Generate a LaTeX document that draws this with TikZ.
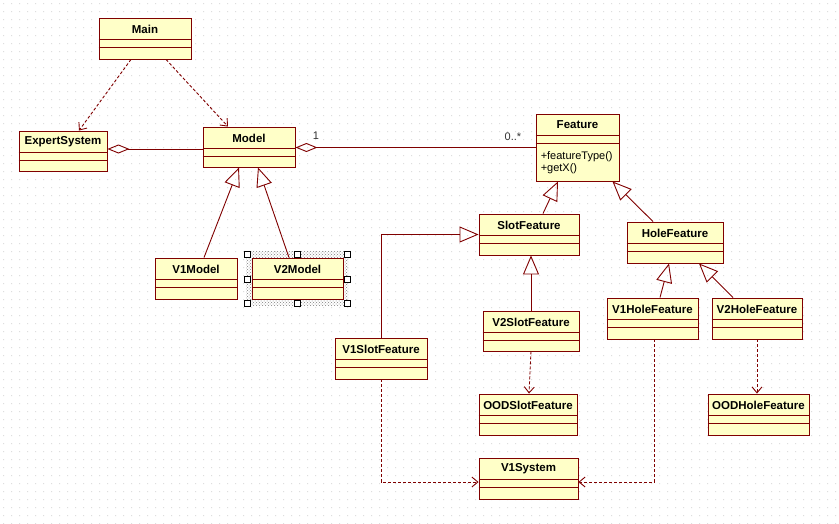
\documentclass[tikz,border=0pt]{standalone}
\usepackage{fontspec}
\setmainfont{Liberation Sans}
\usetikzlibrary{arrows.meta,fit,patterns}
\definecolor{umlline}{RGB}{128,0,0}
\definecolor{umlfill}{RGB}{255,255,200}
\definecolor{gridc}{RGB}{222,222,222}
\tikzset{
 clsbox/.style={draw=umlline, fill=umlfill, line width=0.9pt, inner sep=0pt},
 clsline/.style={draw=umlline, line width=0.9pt},
 clstitle/.style={font=\fontsize{11.5}{13}\selectfont\bfseries, inner sep=0pt, text=black},
 meth/.style={font=\fontsize{11}{12}\selectfont, inner sep=0pt, align=left, text=black},
 conn/.style={draw=umlline, line width=0.9pt},
 gen/.style={conn, -{Triangle[open, length=19pt, width=16pt]}},
 dep/.style={conn, dash pattern=on 3pt off 2pt, -{Straight Barb[length=6pt, width=10pt]}},
 agg/.style={conn, {Diamond[open, length=22pt, width=9pt]}-},
 mult/.style={font=\fontsize{11}{13}\selectfont, inner sep=0pt, text=black!80},
 handle/.style={draw=black, fill=white, line width=0.6pt, minimum size=6pt, inner sep=0pt},
}
\newcommand\umlclass[6]{%
  \node[clsbox, fit={(#2,#3) (#4,#5)}] (#1) {};
  \draw[clsline] ([yshift=-22pt]#1.north west) -- ([yshift=-22pt]#1.north east);
  \draw[clsline] ([yshift=-30pt]#1.north west) -- ([yshift=-30pt]#1.north east);
  \node[clstitle] (#1-t) at ([yshift=-11.5pt]#1.north) {#6};
}
\begin{document}
\begin{tikzpicture}[x=1pt, y=-1pt]
\useasboundingbox (0,0) rectangle (839,523);
\fill[white] (0,0) rectangle (839,523);
\fill[gridc] \foreach \i in {0,...,104} {\foreach \j in {0,...,65} {(3+8*\i, 3+8*\j) rectangle ++(1.2,1.2)}};

% selection of V2Model
\fill[pattern=crosshatch dots, pattern color=black!50] (246,251) rectangle (348,305);

\umlclass{Main}{99}{18}{191}{59}{Main}
\umlclass{ES}{19}{131}{107}{171}{ExpertSystem}
\umlclass{Model}{203}{127}{295}{167}{Model}
\umlclass{V1Model}{155}{258}{237}{299}{V1Model}
\umlclass{V2Model}{252}{258}{343}{299}{V2Model}
\umlclass{Feature}{536}{114}{619}{181}{Feature}
\umlclass{Slot}{479}{214}{579}{255}{SlotFeature}
\umlclass{Hole}{627}{222}{723}{263}{HoleFeature}
\umlclass{V1Hole}{607}{298}{698}{339}{V1HoleFeature}
\umlclass{V2Hole}{712}{298}{802}{339}{V2HoleFeature}
\umlclass{OODHole}{708}{394}{809}{435}{OODHoleFeature}
\umlclass{V1Slot}{335}{338}{427}{379}{V1SlotFeature}
\umlclass{V2Slot}{483}{311}{579}{351}{V2SlotFeature}
\umlclass{OODSlot}{479}{394}{577}{435}{OODSlotFeature}
\umlclass{V1Sys}{479}{458}{578}{499}{V1System}

\node[meth, anchor=west] (Feature-m) at ([xshift=5pt,yshift=-15.5pt]Feature.west) {+featureType()\\+getX()};

% selection handles
\foreach \hx/\hy [count=\k] in {247/254.5, 297.5/254.5, 347/254.5, 247/279, 347/279, 247/303, 297.5/303, 347/303}
  \node[handle] (h\k) at (\hx,\hy) {};

% dependencies
\draw[dep] ([xshift=-14pt]Main.south) -- ([xshift=16pt]ES.north);
\draw[dep] ([xshift=21pt]Main.south) -- ([xshift=-21pt]Model.north);
\draw[dep] (V2Hole.south) -- (V2Hole.south |- OODHole.north);
\draw[dep] (V2Slot.south) -- ([xshift=1pt]OODSlot.north);
\draw[dep] (V1Slot.south) |- ([yshift=-3.5pt]V1Sys.west);
\draw[dep] ([xshift=1.5pt]V1Hole.south) |- ([yshift=-3.5pt]V1Sys.east);

% aggregations
\draw[agg] ([yshift=2pt]ES.east) -- ([yshift=2pt]ES.east -| Model.west);
\draw[agg] ([yshift=-0.5pt]Model.east) -- ([yshift=-0.5pt]Model.east -| Feature.west);
\node[mult] (m1) at (316,136) {1};
\node[mult] (m2) at (513,137) {0..*};

% generalizations
\draw[gen] ([xshift=8pt]V1Model.north) -- ([xshift=-10pt]Model.south);
\draw[gen] ([xshift=-8.5pt]V2Model.north) -- ([xshift=9pt]Model.south);
\draw[gen] ([xshift=14pt]Slot.north) -- ([xshift=-19.5pt]Feature.south);
\draw[gen] ([xshift=-22pt]Hole.north) -- ([xshift=35pt]Feature.south);
\draw[gen] (V2Slot.north) -- (V2Slot.north |- Slot.south);
\draw[gen] (V1Slot.north) |- (Slot.west);
\draw[gen] ([xshift=7.5pt]V1Hole.north) -- ([xshift=-6pt]Hole.south);
\draw[gen] ([xshift=-24pt]V2Hole.north) -- ([xshift=24pt]Hole.south);
\end{tikzpicture}
\end{document}
